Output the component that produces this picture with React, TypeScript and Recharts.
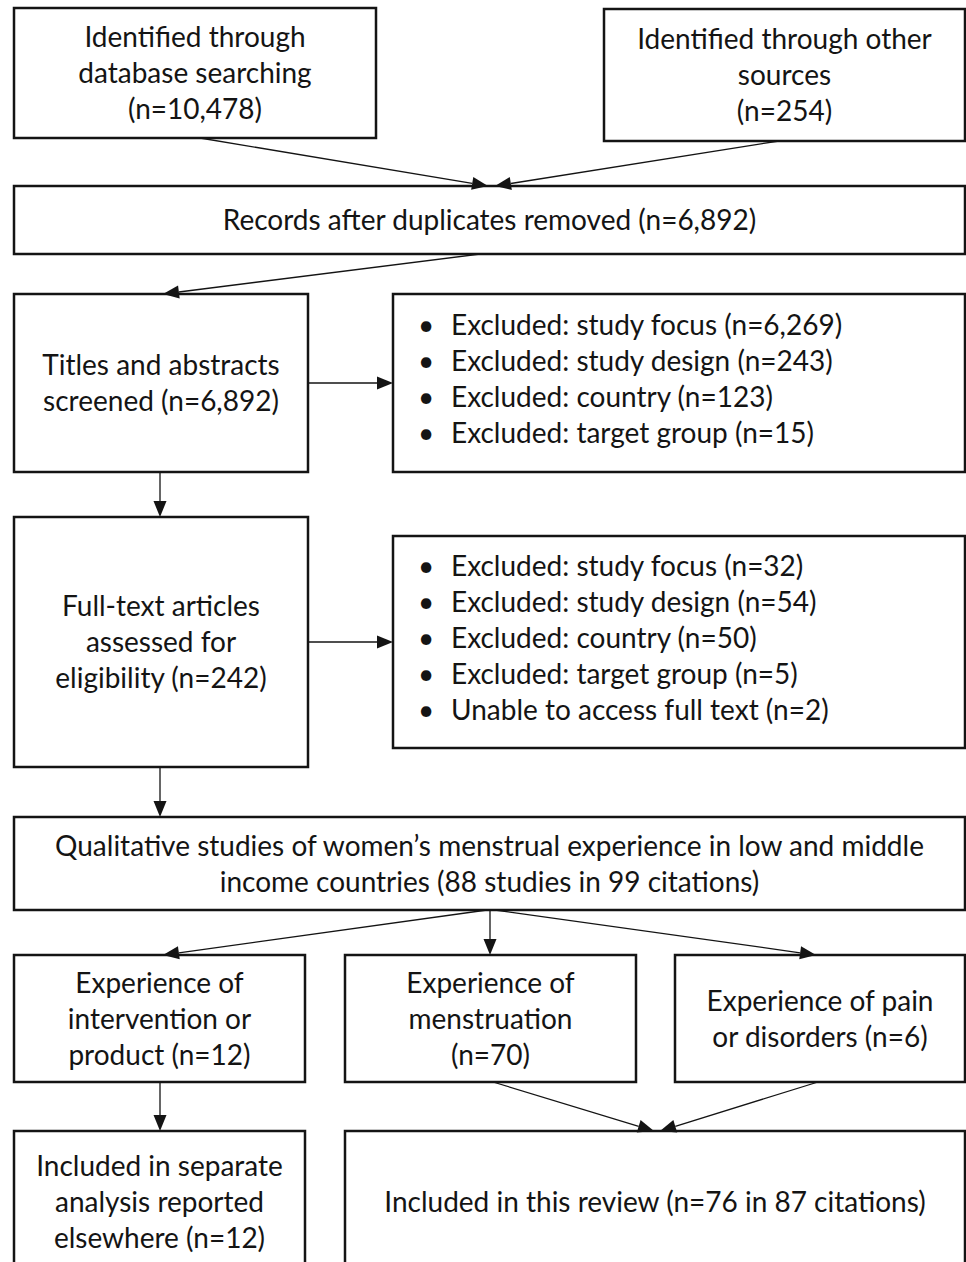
import { ComposedChart, XAxis, YAxis, ReferenceArea, ReferenceLine } from 'recharts';

document.body.style.margin = '0';

// flowchart drawn on a 966 x 1262 unit grid, y grows downwards
const boxNames = ['database', 'other', 'dedup', 'screened', 'excluded1', 'fulltext', 'excluded2',
  'qualitative', 'intervention', 'menstruation', 'pain', 'separate', 'review'];
const boxLeft = [14, 604, 14, 14, 393, 14, 393, 14, 14, 345, 675, 14, 345];
const boxRight = [376, 965, 965, 308, 965, 308, 965, 965, 305, 636, 965, 305, 965];
const boxTop = [8, 9, 186, 294, 294, 517, 536, 817, 955, 955, 955, 1131, 1131];
const boxBottom = [138, 141, 254, 472, 472, 767, 748, 910, 1082, 1082, 1082, 1272, 1272];
const boxLines = [
  ['Identified through', 'database searching', '(n=10,478)'],
  ['Identified through other', 'sources', '(n=254)'],
  ['Records after duplicates removed (n=6,892)'],
  ['Titles and abstracts', 'screened (n=6,892)'],
  ['Excluded: study focus (n=6,269)', 'Excluded: study design (n=243)', 'Excluded: country (n=123)', 'Excluded: target group (n=15)'],
  ['Full-text articles', 'assessed for', 'eligibility (n=242)'],
  ['Excluded: study focus (n=32)', 'Excluded: study design (n=54)', 'Excluded: country (n=50)', 'Excluded: target group (n=5)', 'Unable to access full text (n=2)'],
  ['Qualitative studies of women\u2019s menstrual experience in low and middle', 'income countries (88 studies in 99 citations)'],
  ['Experience of', 'intervention or', 'product (n=12)'],
  ['Experience of', 'menstruation', '(n=70)'],
  ['Experience of pain', 'or disorders (n=6)'],
  ['Included in separate', 'analysis reported', 'elsewhere (n=12)'],
  ['Included in this review (n=76 in 87 citations)'],
];
const bulletBoxes = ['excluded1', 'excluded2'];

const arrowFrom = [[200, 138], [779, 141], [480, 254], [308, 383], [160, 472], [308, 642], [160, 767],
  [487, 910], [490, 910], [495, 910], [493, 1082], [818, 1082], [160, 1082]];
const arrowTo = [[488, 186], [495, 186], [163, 294], [393, 383], [160, 517], [393, 642], [160, 817],
  [163, 955], [490, 955], [816, 955], [654, 1131], [660, 1131], [160, 1131]];

const INK = '#141414';
const FONT = "Lato, 'Noto Sans', sans-serif";
const SIZE = 28;

const BoxText = (props: any) => {
  const { viewBox, lines, bullet } = props;
  const { x, y, width, height } = viewBox;
  const lh = 36;
  const cy = y + height / 2 - (bullet ? 5 : 1);
  const start = cy - ((lines.length - 1) * lh) / 2;
  return (
    <g>
      {lines.map((t: string, i: number) =>
        bullet ? (
          <g key={i}>
            <text x={x + 25} y={start + i * lh} dominantBaseline="central" fontSize={SIZE} fontFamily={FONT} fill={INK}>
              {'\u2022'}
            </text>
            <text x={x + 58} y={start + i * lh} dominantBaseline="central" fontSize={SIZE} fontFamily={FONT} fill={INK}>
              {t}
            </text>
          </g>
        ) : (
          <text key={i} x={x + width / 2} y={start + i * lh} textAnchor="middle" dominantBaseline="central"
            fontSize={SIZE} fontFamily={FONT} fill={INK}>
            {t}
          </text>
        ),
      )}
    </g>
  );
};

const Arrow = (props: any) => {
  const { x1, y1, x2, y2 } = props;
  const ang = Math.atan2(y2 - y1, x2 - x1);
  const len = 16;
  const half = 6.5;
  const bx = x2 - len * Math.cos(ang);
  const by = y2 - len * Math.sin(ang);
  const px = -Math.sin(ang) * half;
  const py = Math.cos(ang) * half;
  return (
    <g>
      <line x1={x1} y1={y1} x2={bx} y2={by} stroke={INK} strokeWidth={1.3} />
      <polygon points={`${x2},${y2} ${bx + px},${by + py} ${bx - px},${by - py}`} fill={INK} />
    </g>
  );
};

export default function App() {
  return (
    <div style={{ background: '#fff', width: 966, height: 1262 }}>
      <ComposedChart width={966} height={1262} data={[]} margin={{ top: 0, right: 0, bottom: 0, left: 0 }}>
        <XAxis type="number" dataKey="x" domain={[0, 966]} hide allowDataOverflow />
        <YAxis type="number" dataKey="y" domain={[0, 1262]} reversed hide allowDataOverflow />
        {arrowFrom.map((f, i) => (
          <ReferenceLine
            key={`a${i}`}
            segment={[{ x: f[0], y: f[1] }, { x: arrowTo[i][0], y: arrowTo[i][1] }]}
            ifOverflow="visible"
            shape={(p: any) => <Arrow {...p} />}
          />
        ))}
        {boxNames.map((name, i) => (
          <ReferenceArea
            key={name}
            x1={boxLeft[i]}
            x2={boxRight[i]}
            y1={boxTop[i]}
            y2={boxBottom[i]}
            ifOverflow="visible"
            fill="#fff"
            fillOpacity={1}
            stroke={INK}
            strokeWidth={2.5}
            label={<BoxText lines={boxLines[i]} bullet={bulletBoxes.includes(name)} />}
          />
        ))}
      </ComposedChart>
    </div>
  );
}
